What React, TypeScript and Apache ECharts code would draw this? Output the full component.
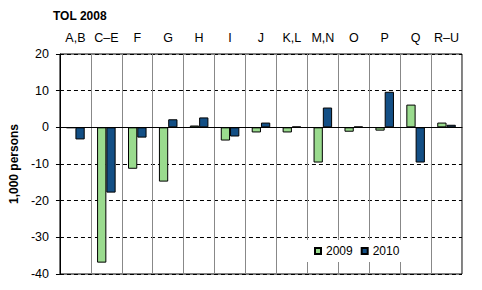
import React, { useEffect, useRef } from "react";
import * as echarts from "echarts";

const categories = ["A,B", "C–E", "F", "G", "H", "I", "J", "K,L", "M,N", "O", "P", "Q", "R–U"];
const values2009 = [-0.2, -36.9, -11.3, -14.8, 0.5, -3.6, -1.4, -1.4, -9.6, -1.2, -0.9, 6.2, 1.3];
const values2010 = [-3.3, -17.8, -2.8, 2.2, 2.7, -2.5, 1.3, 0.2, 5.4, 0.2, 9.7, -9.6, 0.7];
const seriesNames = ["2009", "2010"];
const yTicks = { min: -40, max: 20, interval: 10 };
const titleText = "TOL 2008";
const yAxisName = "1,000 persons";

const FONT = "'Liberation Sans', Arial, sans-serif";

export default function App() {
  const ref = useRef<HTMLDivElement>(null);
  useEffect(() => {
    if (!ref.current) return;
    const chart = echarts.init(ref.current, null, { renderer: "svg" });
    chart.setOption({
      animation: false,
      backgroundColor: "#ffffff",
      textStyle: { fontFamily: FONT },
      title: {
        text: titleText,
        left: 53,
        top: 10,
        padding: 0,
        textStyle: { fontSize: 12, fontWeight: "bold", color: "#000", fontFamily: FONT },
      },
      grid: {
        left: 55,
        right: 20,
        top: 54,
        bottom: 16,
        show: true,
        borderColor: "#000",
        borderWidth: 1,
        backgroundColor: "transparent",
      },
      legend: {
        data: seriesNames,
        left: 302,
        top: 240,
        padding: [5, 8, 5, 12],
        backgroundColor: "#fff",
        itemWidth: 6,
        itemHeight: 6,
        itemGap: 8,
        icon: "rect",
        textStyle: { fontSize: 12, color: "#000", fontFamily: FONT },
      },
      xAxis: {
        type: "category",
        data: categories,
        position: "top",
        axisLine: { show: true, lineStyle: { color: "#000" } },
        axisTick: { show: false },
        axisLabel: { fontSize: 12.5, color: "#000", margin: 10, interval: 0 },
        splitLine: { show: true, lineStyle: { color: "#888", width: 1 } },
      },
      yAxis: {
        type: "value",
        min: yTicks.min,
        max: yTicks.max,
        interval: yTicks.interval,
        name: yAxisName,
        nameLocation: "middle",
        nameGap: 34,
        nameRotate: 90,
        nameTextStyle: { fontSize: 12, fontWeight: "bold", color: "#000" },
        axisLine: { show: true, onZero: false, lineStyle: { color: "#000" } },
        axisTick: { show: true, length: 4, lineStyle: { color: "#000" } },
        axisLabel: { fontSize: 12.5, color: "#000", margin: 11 },
        splitLine: { show: true, lineStyle: { color: "#000", type: [4, 3], width: 1 } },
      },
      series: [
        {
          name: seriesNames[0],
          type: "bar",
          data: values2009,
          barGap: "0%",
          barCategoryGap: "40%",
          itemStyle: { color: "#9ADB8E", borderColor: "#000", borderWidth: 1 },
          markLine: {
            silent: true,
            symbol: "none",
            label: { show: false },
            lineStyle: { color: "#000", type: "solid", width: 1 },
            data: [{ yAxis: 0 }],
          },
        },
        {
          name: seriesNames[1],
          type: "bar",
          data: values2010,
          barGap: "0%",
          barCategoryGap: "40%",
          itemStyle: { color: "#134F85", borderColor: "#000", borderWidth: 1 },
        },
      ],
    });
    return () => chart.dispose();
  }, []);
  return <div ref={ref} style={{ width: 482, height: 290, position: "absolute", left: 0, top: 0 }} />;
}
